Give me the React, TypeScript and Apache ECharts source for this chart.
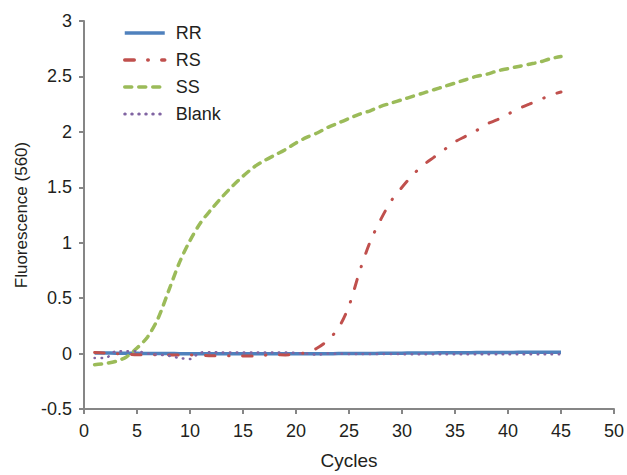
import React, { useEffect, useRef } from "react";
import * as echarts from "echarts";

const cycles = [1,2,3,4,5,6,7,8,9,10,11,12,13,14,15,16,17,18,19,20,21,22,23,24,25,26,27,28,29,30,31,32,33,34,35,36,37,38,39,40,41,42,43,44,45];

const rr = [0.005,0.005,0.004,0.003,0.002,0.001,0.0,0.0,-0.001,-0.002,-0.002,-0.002,-0.002,-0.002,-0.002,-0.002,-0.002,-0.002,-0.002,-0.002,-0.002,-0.001,-0.001,0.0,0.0,0.001,0.001,0.002,0.003,0.004,0.005,0.005,0.006,0.007,0.008,0.008,0.009,0.009,0.01,0.01,0.011,0.011,0.012,0.012,0.012];

const rs = [0.01,0.005,0.0,-0.005,-0.01,-0.01,-0.01,-0.012,-0.012,-0.012,-0.015,-0.02,-0.02,-0.02,-0.022,-0.022,-0.015,-0.01,-0.012,-0.005,0.01,0.05,0.12,0.23,0.43,0.74,1.01,1.21,1.38,1.5,1.61,1.7,1.77,1.84,1.91,1.96,2.01,2.07,2.11,2.16,2.21,2.25,2.29,2.33,2.36];

const ss = [-0.1,-0.09,-0.07,-0.03,0.05,0.15,0.32,0.57,0.82,1.02,1.18,1.3,1.41,1.51,1.6,1.68,1.74,1.79,1.84,1.9,1.95,1.99,2.04,2.08,2.12,2.16,2.19,2.23,2.26,2.29,2.32,2.35,2.38,2.41,2.44,2.47,2.5,2.52,2.55,2.57,2.59,2.61,2.63,2.66,2.68];

const blank = [-0.04,-0.04,0.02,0.02,0.02,0.0,-0.01,-0.02,-0.04,-0.05,0.01,0.012,0.01,0.01,0.01,0.01,0.01,0.01,0.01,0.005,0.0,-0.01,0.0,-0.002,-0.003,-0.003,-0.004,-0.004,-0.004,-0.005,-0.005,-0.005,-0.005,-0.005,-0.005,-0.005,-0.005,-0.005,-0.005,-0.005,-0.005,-0.005,-0.005,-0.005,-0.005];

const xTicks = { min: 0, max: 50, interval: 5 };
const yTicks = { min: -0.5, max: 3, interval: 0.5 };

const FONT = '"Liberation Sans", Arial, Helvetica, sans-serif';

export default function App() {
  const ref = useRef<HTMLDivElement>(null);
  useEffect(() => {
    if (!ref.current) return;
    const chart = echarts.init(ref.current, undefined, { renderer: "svg" });
    const pair = (arr: number[]) => cycles.map((c, i) => [c, arr[i]]);
    const axisColor = "#868686";
    const txt = "#231f20";
    chart.setOption({
      animation: false,
      backgroundColor: "#ffffff",
      textStyle: { fontFamily: FONT },
      grid: { left: 84, right: 11, top: 21, bottom: 61, containLabel: false },
      legend: {
        orient: "vertical",
        left: 123,
        top: 24,
        padding: 0,
        itemWidth: 40,
        itemHeight: 14,
        itemGap: 9,
        itemStyle: { opacity: 0 },
        textStyle: { fontSize: 18, color: txt, fontFamily: FONT, padding: [0, 0, 0, 6] },
        data: [
          { name: "RR", lineStyle: { width: 3.5 } },
          { name: "RS", lineStyle: { width: 3.5 } },
          { name: "SS", lineStyle: { width: 3.5 } },
          { name: "Blank", lineStyle: { width: 3 } },
        ],
      },
      xAxis: {
        type: "value",
        min: xTicks.min,
        max: xTicks.max,
        interval: xTicks.interval,
        name: "Cycles",
        nameLocation: "middle",
        nameGap: 42,
        nameTextStyle: { fontSize: 19, color: txt, fontFamily: FONT },
        axisLine: { onZero: false, lineStyle: { color: axisColor, width: 2 } },
        axisTick: { show: true, length: 5, lineStyle: { color: axisColor, width: 2 } },
        axisLabel: { fontSize: 18, color: txt, margin: 13, fontFamily: FONT },
        splitLine: { show: false },
      },
      yAxis: {
        type: "value",
        min: yTicks.min,
        max: yTicks.max,
        interval: yTicks.interval,
        name: "Fluorescence (560)",
        nameLocation: "middle",
        nameGap: 53,
        nameTextStyle: { fontSize: 17, color: txt, fontFamily: FONT },
        axisLine: { show: true, lineStyle: { color: axisColor, width: 2 } },
        axisTick: { show: true, length: 5, lineStyle: { color: axisColor, width: 2 } },
        axisLabel: { fontSize: 18, color: txt, margin: 12, fontFamily: FONT },
        splitLine: { show: false },
      },
      series: [
        {
          name: "RR",
          type: "line",
          symbol: "none",
          smooth: 0.3,
          data: pair(rr),
          itemStyle: { color: "#4f81bd" },
          lineStyle: { color: "#4f81bd", width: 3.5, type: "solid" },
          z: 2,
        },
        {
          name: "RS",
          type: "line",
          symbol: "none",
          smooth: 0.3,
          data: pair(rs),
          itemStyle: { color: "#c0504d" },
          lineStyle: { color: "#c0504d", width: 3, type: [9.5, 13.5, 0.5, 13.5], cap: "round" },
          z: 3,
        },
        {
          name: "SS",
          type: "line",
          symbol: "none",
          smooth: 0.3,
          data: pair(ss),
          itemStyle: { color: "#9bbb59" },
          lineStyle: { color: "#9bbb59", width: 3.5, type: [7, 7], cap: "round" },
          z: 4,
        },
        {
          name: "Blank",
          type: "line",
          symbol: "none",
          smooth: 0.3,
          data: pair(blank),
          itemStyle: { color: "#8064a2" },
          lineStyle: { color: "#8064a2", width: 2.5, type: [0.5, 6.5], cap: "round" },
          z: 5,
        },
      ],
    });
    return () => chart.dispose();
  }, []);
  return <div ref={ref} style={{ width: 627, height: 475, position: "absolute", left: 0, top: 0 }} />;
}
